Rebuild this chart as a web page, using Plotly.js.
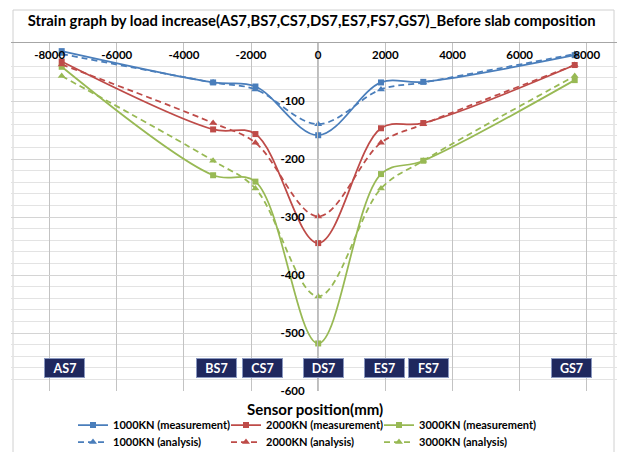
<!DOCTYPE html>
<html>
<head>
<meta charset="utf-8">
<script src="https://cdn.plot.ly/plotly-3.0.1.min.js"></script>
<style>html,body{margin:0;padding:0;background:#fff;}#chart{width:617px;height:452px;}</style>
</head>
<body>
<div id="chart"></div>
<script>
// Sensor positions (mm) and names
const sensors = ['AS7', 'BS7', 'CS7', 'DS7', 'ES7', 'FS7', 'GS7'];
const positions = [-7640, -3130, -1870, 0, 1870, 3130, 7640];
// Text-box anchor positions (mm) for sensor labels
const boxX = [-7560, -3030, -1670, 150, 1980, 3290, 7530];
const boxY = -561;

// Strain values
const meas1000 = [-14, -68, -75, -159, -68, -67, -21];
const meas2000 = [-32, -149, -157, -345, -147, -138, -38];
const meas3000 = [-41, -228, -239, -518, -226, -203, -64];
const anal1000 = [-19, -68, -80, -140, -80, -68, -19];
const anal2000 = [-37, -138, -172, -299, -172, -140, -38];
const anal3000 = [-57, -203, -251, -437, -251, -203, -57];

const xTicks = [-8000, -6000, -4000, -2000, 0, 2000, 4000, 6000, 8000];
const yTicks = [0, -100, -200, -300, -400, -500, -600];

const BLUE = '#4a7ebb', RED = '#be4b48', GREEN = '#98b954';
const FONT = 'Lato, "Open Sans", sans-serif';

function meas(name, y, color, leg) {
  return {x: positions, y: y, name: '<b>' + name + '</b>', type: 'scatter', mode: 'lines+markers',
    line: {color: color, width: 1.75, shape: 'spline', smoothing: 1},
    marker: {symbol: 'square', size: 6, color: color}, legend: leg};
}
function anal(name, y, color, leg) {
  return {x: positions, y: y, name: '<b>' + name + '</b>', type: 'scatter', mode: 'lines+markers',
    line: {color: color, width: 1.75, shape: 'spline', smoothing: 1, dash: '6px,4px'},
    marker: {symbol: 'triangle-up', size: 7, color: color}, legend: leg};
}

const data = [
  meas('1000KN (measurement)', meas1000, BLUE, 'legend'),
  meas('2000KN (measurement)', meas2000, RED, 'legend2'),
  meas('3000KN (measurement)', meas3000, GREEN, 'legend3'),
  anal('1000KN (analysis)', anal1000, BLUE, 'legend4'),
  anal('2000KN (analysis)', anal2000, RED, 'legend5'),
  anal('3000KN (analysis)', anal3000, GREEN, 'legend6')
];

const L = 11, T = 43, W = 606, H = 348;

const annotations = sensors.map((s, i) => ({
  x: boxX[i], y: boxY, xref: 'x', yref: 'y', text: '<b>' + s + '</b>', showarrow: false,
  font: {family: FONT, size: 12.5, color: '#ffffff'},
  bgcolor: '#1f285e', bordercolor: '#8a98c0', borderwidth: 1, borderpad: 1,
  width: 37, height: 16
}));
annotations.push({
  text: '<b>Sensor position(mm)</b>', xref: 'paper', yref: 'paper',
  x: (315 - L) / W, y: (T + H - 409) / H, xanchor: 'center', yanchor: 'middle', showarrow: false,
  font: {family: FONT, size: 15, color: '#000'}
});

function leg(px, py) {
  return {orientation: 'h', x: (px - L) / W, xanchor: 'left', y: (T + H - py) / H, yanchor: 'middle',
    font: {family: FONT, size: 11, color: '#000'}, bgcolor: 'rgba(0,0,0,0)', borderwidth: 0};
}

const layout = {
  width: 617, height: 452,
  margin: {l: L, r: 0, t: T, b: 452 - T - H, pad: 0, autoexpand: false},
  paper_bgcolor: '#ffffff', plot_bgcolor: '#ffffff',
  font: {family: FONT, color: '#000000'},
  title: {text: '<b>Strain graph by load increase(AS7,BS7,CS7,DS7,ES7,FS7,GS7)_Before slab composition</b>',
    font: {family: FONT, size: 14.8, color: '#000000'},
    xref: 'container', yref: 'container', x: 0.505, xanchor: 'center', y: 1 - 21 / 452, yanchor: 'middle'},
  xaxis: {
    range: [-9150, 8900], side: 'top', tickvals: xTicks, ticktext: xTicks.map(v => '<b>' + v + '</b>'),
    ticklabelposition: 'inside', ticks: '', ticklabelstandoff: 7,
    tickfont: {family: FONT, size: 11.5, color: '#000'},
    showgrid: true, gridcolor: '#c3c3c3', gridwidth: 1,
    showline: true, linecolor: '#a6a6a6', linewidth: 1, zeroline: false, fixedrange: true
  },
  yaxis: {
    range: [-600, 0], anchor: 'free', position: (317 - L) / W, side: 'left',
    tickvals: yTicks, ticktext: yTicks.map(v => '<b>' + v + '</b>'),
    ticks: '', ticklabelstandoff: 10,
    tickfont: {family: FONT, size: 11.5, color: '#000'},
    showgrid: true, gridcolor: '#d4d4d4', gridwidth: 1,
    minor: {tickvals: Array.from({length: 31}, (_, i) => -20 * i), showgrid: true, gridcolor: '#e3e3e3', gridwidth: 1, ticks: ''},
    showline: true, linecolor: '#bdbdbd', linewidth: 1, zeroline: false, fixedrange: true
  },
  showlegend: true,
  legend: leg(73, 425), legend2: leg(226, 425), legend3: leg(379, 425),
  legend4: leg(73, 442), legend5: leg(226, 442), legend6: leg(379, 442),
  annotations: annotations,
  shapes: [{type: 'rect', xref: 'paper', yref: 'paper', layer: 'below',
    x0: (13 - L) / W, x1: (614 - L) / W, y0: (T + H - 470) / H, y1: (T + H - 10) / H,
    line: {color: '#d0d0d0', width: 1}, fillcolor: 'rgba(0,0,0,0)'}]
};

Plotly.newPlot('chart', data, layout, {displayModeBar: false, staticPlot: true});
</script>
</body>
</html>
